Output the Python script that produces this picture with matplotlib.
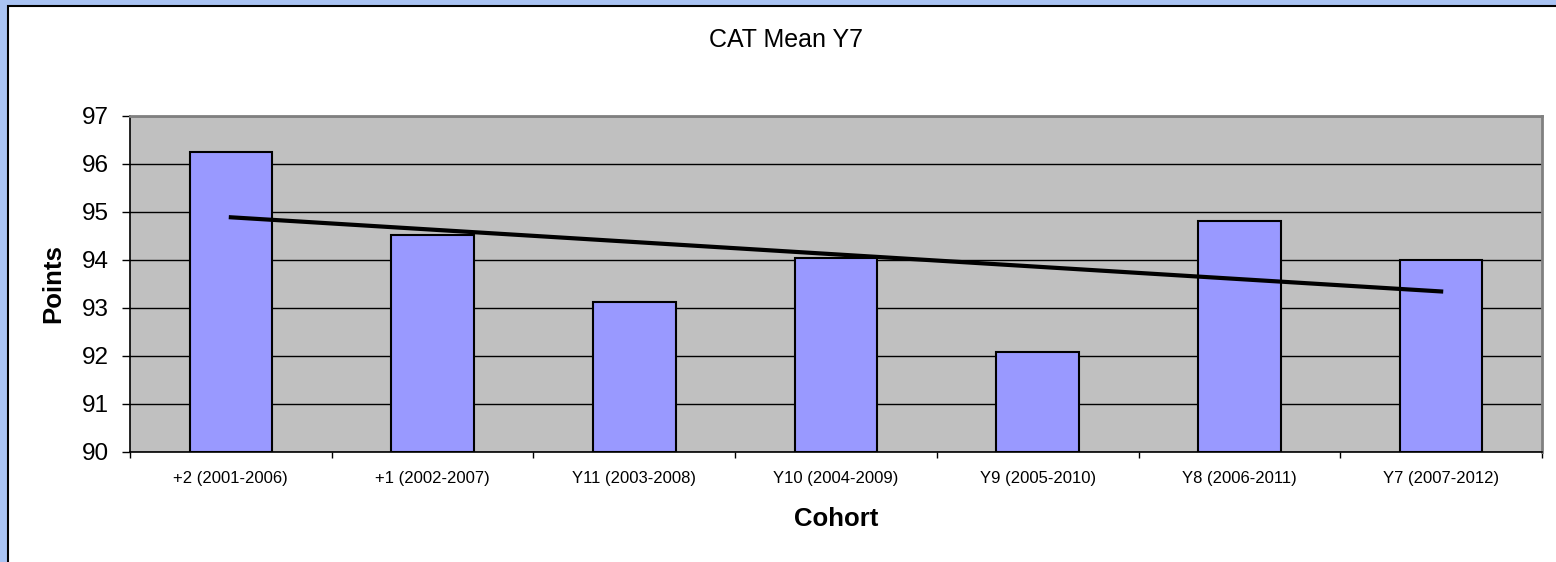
import numpy as np
import matplotlib.pyplot as plt
from matplotlib.patches import Rectangle

# chart values
cohorts = ["+2 (2001-2006)", "+1 (2002-2007)", "Y11 (2003-2008)", "Y10 (2004-2009)",
           "Y9 (2005-2010)", "Y8 (2006-2011)", "Y7 (2007-2012)"]
cat_mean = [96.25, 94.52, 93.12, 94.04, 92.08, 94.81, 94.00]
y_ticks = [90, 91, 92, 93, 94, 95, 96, 97]

plt.rcParams['font.family'] = ['Liberation Sans', 'DejaVu Sans']

fig = plt.figure(figsize=(15.56, 5.62), dpi=100)
fig.patch.set_facecolor("#a9c3f3")
# white chart panel with black frame, kept behind the axes
fig.patches.append(Rectangle((8 / 1556, -0.01), 1.0, 1 - 6 / 562 + 0.01,
                             transform=fig.transFigure, facecolor="white",
                             edgecolor="black", linewidth=1.5, zorder=-5))

ax = fig.add_axes([130 / 1556, 1 - 452 / 562, 1412 / 1556, 336 / 562])
ax.set_zorder(2)
ax.set_facecolor("#c0c0c0")

x = np.arange(len(cohorts))
ax.bar(x, np.array(cat_mean) - 90, bottom=90, width=0.41, color="#9999ff",
       edgecolor="black", linewidth=1.5, zorder=3)

# linear trend line
k, b = np.polyfit(x, cat_mean, 1)
ax.plot(x, k * x + b, color="black", linewidth=3, zorder=4)

ax.set_xlim(-0.5, len(cohorts) - 0.5)
ax.set_ylim(90, 97)
ax.set_yticks(y_ticks)
ax.set_yticklabels([str(v) for v in y_ticks], fontsize=17.5)
ax.yaxis.grid(True, color="black", linewidth=1, zorder=1)
ax.set_axisbelow(True)
ax.tick_params(axis="y", length=6, width=1, pad=9)

ax.set_xticks(x)
ax.set_xticklabels(cohorts, fontsize=12)
ax.tick_params(axis="x", which="major", length=0, pad=14)
ax.set_xticks(np.arange(-0.5, len(cohorts)), minor=True)
ax.tick_params(axis="x", which="minor", length=4.5, width=1)

for s in ["left", "bottom"]:
    ax.spines[s].set_color("black")
    ax.spines[s].set_linewidth(1.2)
for s in ["top", "right"]:
    ax.spines[s].set_color("#808080")
    ax.spines[s].set_linewidth(2)

ax.set_ylabel("Points", fontsize=18.5, fontweight="bold", va="center")
ax.yaxis.set_label_coords((53 - 130) / 1412, 0.5)
ax.set_xlabel("Cohort", fontsize=18.5, fontweight="bold", va="center")
ax.xaxis.set_label_coords((836 - 130) / 1412, (452 - 519) / 336)
fig.text(786 / 1556, 1 - 40 / 562, "CAT Mean Y7", fontsize=18, ha="center", va="center")

plt.savefig("out.png", dpi=100, facecolor=fig.get_facecolor())
